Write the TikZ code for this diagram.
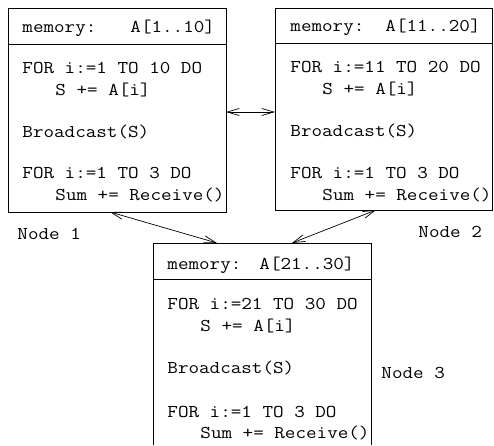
\documentclass[tikz,border=0pt]{standalone}
\usepackage{fontspec}
\setmonofont{Latin Modern Mono}[FakeStretch=1.14]
\usetikzlibrary{arrows.meta}

\tikzset{code/.style={font=\ttfamily\fontsize{18}{22}\selectfont,anchor=base west,inner sep=0pt},
  link/.style={{Straight Barb[length=12pt,width=7pt]}-{Straight Barb[length=12pt,width=7pt]},line width=0.7pt}}

\begin{document}
\begin{tikzpicture}[x=1pt,y=-1pt,line width=0.9pt]
\useasboundingbox (0,0) rectangle (494,445);

% node 1
\draw (8,8) rectangle (226,212);
\draw (8,44)--(226,44);
\node[code] (m1) at (22,32) {memory:};
\node[code] (a1) at (130,32) {A[1..10]};
\node[code] (f1) at (22,73) {FOR i:=1 TO 10 DO};
\node[code] (s1) at (55,95) {S += A[i]};
\node[code] (b1) at (22,137) {Broadcast(S)};
\node[code] (r1) at (22,178) {FOR i:=1 TO 3 DO};
\node[code] (u1) at (55,200) {Sum += Receive()};
\node[code] (n1) at (17,239) {Node 1};

% node 2
\draw (275,8) rectangle (492,210);
\draw (275,43)--(492,43);
\node[code] (m2) at (290,31) {memory:};
\node[code] (a2) at (385,31) {A[11..20]};
\node[code] (f2) at (290,72) {FOR i:=11 TO 20 DO};
\node[code] (s2) at (322,94) {S += A[i]};
\node[code] (b2) at (290,136) {Broadcast(S)};
\node[code] (r2) at (290,178) {FOR i:=1 TO 3 DO};
\node[code] (u2) at (322,200) {Sum += Receive()};
\node[code] (n2) at (418,237) {Node 2};

% node 3 (runs off the bottom)
\draw (153,445)--(153,243)--(371,243)--(371,445);
\draw (153,279)--(371,279);
\node[code] (m3) at (167,269) {memory:};
\node[code] (a3) at (259,269) {A[21..30]};
\node[code] (f3) at (167,309) {FOR i:=21 TO 30 DO};
\node[code] (s3) at (200,331) {S += A[i]};
\node[code] (b3) at (167,373) {Broadcast(S)};
\node[code] (r3) at (167,417) {FOR i:=1 TO 3 DO};
\node[code] (u3) at (200,438) {Sum += Receive()};
\node[code] (n3) at (381,378) {Node 3};

% links
\coordinate (p1e) at (226,112);
\coordinate (p2w) at (275,112);
\coordinate (p1s) at (110,212);
\coordinate (p3a) at (217,243);
\coordinate (p2s) at (376,210);
\coordinate (p3b) at (292,243);

\draw[link] (p1e)--(p2w);
\draw[link] (p1s)--(p3a);
\draw[link] (p2s)--(p3b);

\end{tikzpicture}
\end{document}
